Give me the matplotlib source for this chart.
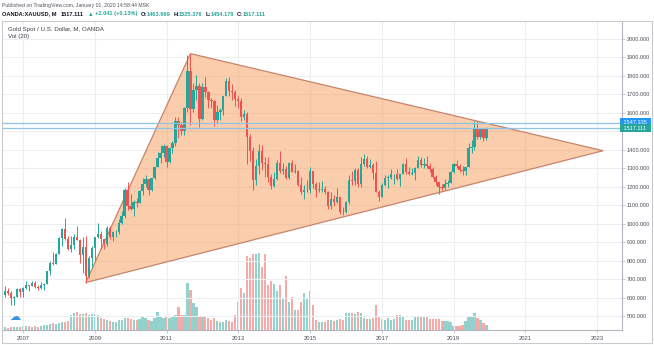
import matplotlib
matplotlib.use("Agg")
import matplotlib.pyplot as plt
from matplotlib.patches import Polygon, Rectangle
import matplotlib.transforms as mtransforms
import numpy as np

plt.rcParams['font.family'] = ['Liberation Sans', 'DejaVu Sans']

W, H = 654, 345
fig = plt.figure(figsize=(W / 100, H / 100), dpi=100)


def fx(px):
    return px / W


def fy(py):
    return 1 - py / H


# ---- OANDA:XAUUSD monthly bars, Jul 2006 .. Dec 2019 ----
first_month = -6          # months relative to Jan 2007
open_ = [
    614, 633, 623, 599, 604, 646,
    632, 650, 669, 662, 680, 659, 650, 666, 673, 743, 789, 783,
    834, 923, 972, 916, 864, 886, 926, 913, 833, 871, 718, 815,
    869, 927, 942, 916, 891, 979, 927, 954, 955, 1001, 1040, 1182,
    1096, 1081, 1116, 1113, 1179, 1213, 1244, 1181, 1246, 1307, 1357, 1385,
    1421, 1332, 1411, 1439, 1556, 1536, 1500, 1628, 1825, 1620, 1722, 1746,
    1565, 1738, 1711, 1669, 1664, 1560, 1604, 1614, 1692, 1772, 1719, 1712,
    1675, 1663, 1578, 1595, 1472, 1393, 1234, 1313, 1396, 1326, 1323, 1253,
    1202, 1244, 1326, 1284, 1296, 1250, 1327, 1282, 1287, 1210, 1171, 1182,
    1184, 1283, 1213, 1183, 1183, 1190, 1172, 1095, 1134, 1115, 1142, 1065,
    1061, 1118, 1238, 1233, 1293, 1215, 1322, 1351, 1309, 1316, 1275, 1173,
    1146, 1211, 1249, 1249, 1268, 1269, 1242, 1269, 1322, 1280, 1271, 1275,
    1303, 1345, 1318, 1325, 1315, 1298, 1253, 1224, 1201, 1192, 1215, 1222,
    1282, 1321, 1313, 1292, 1284, 1305, 1409, 1413, 1520, 1472, 1513, 1463.969,
]
high = [
    663, 653, 636, 611, 651, 649,
    656, 690, 670, 692, 691, 669, 682, 680, 745, 796, 846, 841,
    930, 975, 1032, 934, 934, 943, 989, 915, 928, 935, 825, 880,
    930, 1006, 963, 919, 985, 989, 960, 965, 1023, 1070, 1195, 1227,
    1161, 1126, 1138, 1180, 1249, 1265, 1244, 1248, 1308, 1388, 1424, 1431,
    1424, 1411, 1447, 1575, 1577, 1553, 1632, 1912, 1921, 1764, 1803, 1764,
    1764, 1792, 1719, 1678, 1668, 1640, 1625, 1692, 1790, 1796, 1754, 1723,
    1694, 1679, 1617, 1605, 1487, 1417, 1348, 1434, 1424, 1362, 1361, 1267,
    1280, 1345, 1392, 1331, 1315, 1332, 1345, 1323, 1290, 1255, 1208, 1239,
    1307, 1284, 1224, 1224, 1232, 1205, 1175, 1170, 1157, 1191, 1143, 1088,
    1124, 1263, 1283, 1304, 1303, 1362, 1375, 1367, 1352, 1326, 1338, 1180,
    1220, 1264, 1261, 1295, 1270, 1296, 1270, 1331, 1357, 1306, 1299, 1307,
    1366, 1361, 1356, 1366, 1326, 1309, 1266, 1225, 1214, 1243, 1237, 1285,
    1326, 1346, 1324, 1310, 1306, 1439, 1453, 1555, 1557, 1517, 1515, 1525.376,
]
low = [
    604, 612, 560, 560, 603, 605,
    603, 645, 636, 661, 652, 642, 648, 642, 671, 723, 776, 780,
    834, 880, 913, 860, 848, 862, 909, 786, 735, 681, 706, 763,
    800, 922, 865, 865, 880, 916, 905, 929, 944, 998, 1033, 1075,
    1072, 1044, 1088, 1112, 1156, 1198, 1155, 1176, 1242, 1305, 1330, 1361,
    1309, 1326, 1381, 1418, 1462, 1478, 1478, 1603, 1535, 1603, 1668, 1523,
    1563, 1688, 1627, 1627, 1527, 1547, 1564, 1587, 1689, 1692, 1672, 1635,
    1626, 1555, 1562, 1321, 1338, 1180, 1208, 1271, 1292, 1251, 1227, 1187,
    1201, 1239, 1277, 1268, 1240, 1240, 1281, 1272, 1206, 1160, 1131, 1170,
    1167, 1191, 1142, 1170, 1170, 1162, 1077, 1080, 1098, 1110, 1052, 1046,
    1060, 1108, 1208, 1207, 1200, 1199, 1310, 1301, 1302, 1241, 1171, 1123,
    1146, 1205, 1195, 1241, 1214, 1236, 1205, 1267, 1271, 1261, 1264, 1236,
    1302, 1307, 1303, 1302, 1282, 1246, 1211, 1160, 1180, 1182, 1196, 1221,
    1276, 1302, 1281, 1266, 1266, 1305, 1382, 1400, 1459, 1458, 1446, 1454.178,
]
close = [
    633, 623, 599, 604, 646, 632,
    650, 669, 662, 680, 659, 650, 666, 673, 743, 789, 783, 834,
    923, 972, 916, 864, 886, 926, 913, 833, 871, 718, 815, 869,
    927, 942, 916, 891, 979, 927, 954, 955, 1001, 1040, 1182, 1096,
    1081, 1116, 1113, 1179, 1213, 1244, 1181, 1246, 1307, 1357, 1385, 1421,
    1332, 1411, 1439, 1556, 1536, 1500, 1628, 1825, 1620, 1722, 1746, 1565,
    1738, 1711, 1669, 1664, 1560, 1604, 1614, 1692, 1772, 1719, 1712, 1675,
    1663, 1578, 1595, 1472, 1393, 1234, 1313, 1396, 1326, 1323, 1253, 1202,
    1244, 1326, 1284, 1296, 1250, 1327, 1282, 1287, 1210, 1171, 1182, 1184,
    1283, 1213, 1183, 1183, 1190, 1172, 1095, 1134, 1115, 1142, 1065, 1061,
    1118, 1238, 1233, 1293, 1215, 1322, 1351, 1309, 1316, 1275, 1173, 1146,
    1211, 1249, 1249, 1268, 1269, 1242, 1269, 1322, 1280, 1271, 1275, 1303,
    1345, 1318, 1325, 1315, 1298, 1253, 1224, 1201, 1192, 1215, 1222, 1282,
    1321, 1313, 1292, 1284, 1305, 1409, 1413, 1520, 1472, 1513, 1464, 1517.111,
]
# tick volume, thousands
volume = [
    30, 20, 30, 30, 30, 30,
    40, 40, 40, 30, 40, 30, 40, 50, 50, 60, 70, 60,
    70, 80, 80, 90, 150, 170, 180, 160, 160, 170, 150, 160,
    160, 150, 120, 110, 100, 90, 80, 80, 100, 100, 120, 120,
    110, 100, 100, 110, 130, 120, 100, 90, 120, 180, 140, 120,
    130, 120, 130, 150, 230, 150, 150, 470, 400, 270, 230, 140,
    130, 130, 120, 100, 120, 90, 80, 80, 100, 90, 80, 150,
    280, 420, 370, 740, 720, 760, 760, 770, 630, 760, 450, 490,
    460, 390, 450, 310, 540, 280, 330, 200, 200, 280, 370, 320,
    390, 250, 100, 80, 80, 80, 100, 100, 90, 100, 110, 100,
    170, 170, 170, 160, 180, 170, 120, 110, 110, 120, 250, 130,
    110, 100, 120, 100, 110, 150, 150, 140, 100, 100, 100, 140,
    140, 140, 130, 140, 110, 110, 110, 110, 90, 90, 90, 80,
    40, 40, 40, 50, 90, 130, 140, 170, 120, 100, 70, 50,
]

# triangle drawn on the chart: 2008 low, 2011 high, apex
tri_months = [21, 56, 194]
tri_prices = [681, 1921, 1395]

# horizontal levels
level_lines = [1547.335, 1517.111]
level_colors = ['#2196f3', '#26a69a']

price_ticks = [500, 600, 700, 800, 900, 1000, 1100, 1200, 1300, 1400,
               1600, 1700, 1800, 1900, 2000]
year_labels = ['2007', '2009', '2011', '2013', '2015', '2017', '2019', '2021', '2023']

UP, DOWN = '#26a69a', '#ef5350'
UP_V, DOWN_V = '#93d2cc', '#f7a9a7'
GRID = '#eceef2'
AXC = '#b2b5be'
TXT = '#4a4e59'

# ---- axes layout (pixel box: x 2..622, y 21..330) ----
L, R, T, B = 2, 622, 21, 330
rect = [fx(L), fy(B), fx(R) - fx(L), fy(T) - fy(B)]
ax_vol = fig.add_axes(rect, zorder=0)
ax = fig.add_axes(rect, zorder=1)
ax.patch.set_alpha(0)

xlim = (-7.02, 200.33)
ylim = (424.2, 2097.5)

months = np.arange(first_month, first_month + len(close))
o = np.array(open_, float)
h = np.array(high, float)
lo = np.array(low, float)
c = np.array(close, float)
up = c >= o

# volume pane
ax_vol.bar(months, volume, width=0.74, color=np.where(up, UP_V, DOWN_V), linewidth=0)
ax_vol.set_xlim(*xlim)
ax_vol.set_ylim(0, 3090)
ax_vol.axis('off')

# grid
for m in range(0, 193, 24):
    ax.axvline(m, color=GRID, lw=0.8, zorder=0)
for p in price_ticks + [1500]:
    ax.axhline(p, color=GRID, lw=0.8, zorder=0)

# triangle fill (grid shows faintly through it)
ax.add_patch(Polygon(list(zip(tri_months, tri_prices)), closed=True,
                     facecolor='#f5964f', edgecolor='none', alpha=0.47, zorder=1))
ax.add_patch(Polygon(list(zip(tri_months, tri_prices)), closed=True,
                     facecolor='none', edgecolor='#c8846a', lw=0.9, zorder=2))

# candles
cols = np.where(up, UP, DOWN)
ax.vlines(months, lo, h, colors=cols, lw=0.7, zorder=3)
body = np.maximum(np.abs(c - o), 3)
ax.bar(months, body, bottom=np.minimum(o, c), width=0.78, color=cols,
       linewidth=0, zorder=4)

# levels
for lv in level_lines:
    ax.axhline(lv, color='#8fc4e6', lw=0.9, zorder=6)

ax.set_xlim(*xlim)
ax.set_ylim(*ylim)

for s in ['top', 'left']:
    ax.spines[s].set_visible(False)
ax.spines['right'].set_color(AXC)
ax.spines['bottom'].set_color(AXC)
ax.spines['right'].set_linewidth(0.8)
ax.spines['bottom'].set_linewidth(0.8)

ax.yaxis.tick_right()
ax.set_yticks(price_ticks)
ax.set_yticklabels([f'{p:.3f}' for p in price_ticks])
ax.tick_params(axis='y', length=2, width=0.5, color=AXC, pad=1.5,
               labelsize=4.0, labelcolor=TXT)
ax.set_xticks(list(range(0, 193, 24)))
ax.set_xticklabels(year_labels)
ax.tick_params(axis='x', length=2, width=0.5, color=AXC, pad=2,
               labelsize=4.2, labelcolor=TXT)

# level labels on the price scale
trans = mtransforms.blended_transform_factory(ax.transAxes, ax.transData)
for lv, col in zip(level_lines, level_colors):
    ax.text(1.0, lv, f' {lv:.3f}  ', transform=trans, ha='left', va='center',
            fontsize=4.0, color='white', zorder=7, clip_on=False,
            bbox=dict(boxstyle='square,pad=0.3', fc=col, ec='none'))

# outer frame
fig.patches.append(Rectangle((fx(2), fy(343)), fx(652) - fx(2), fy(21) - fy(343),
                             transform=fig.transFigure, fill=False,
                             ec='#c8cad0', lw=0.8))

# header
fig.text(fx(2), fy(6), 'Published on TradingView.com, January 01, 2020 14:58:44 MSK',
         fontsize=3.7, color='#50535e', va='center', ha='left')

renderer = fig.canvas.get_renderer()
x = 2.0
pieces = [
    ('OANDA:XAUUSD, M', '#131722', 4.0),
    ('1517.111', '#131722', 4.0),
    ('\u25b2', UP, 2.0),
    ('+2.041 (+0.13%)', UP, 3.0),
    ('O:', '#131722', 0.0),
    ('1463.969', UP, 2.5),
    ('H:', '#131722', 0.0),
    ('1525.376', UP, 2.5),
    ('L:', '#131722', 0.0),
    ('1454.178', UP, 2.5),
    ('C:', '#131722', 0.0),
    ('1517.111', UP, 0.0),
]
for s, col, gap in pieces:
    t = fig.text(fx(x), fy(14), s, fontsize=4.1, fontweight='bold', color=col,
                 va='center', ha='left')
    bb = t.get_window_extent(renderer)
    x += bb.width + gap

fig.text(fx(8), fy(29), 'Gold Spot / U.S. Dollar, M, OANDA', fontsize=4.4,
         color='#3c3f48', va='center', ha='left')
fig.text(fx(8), fy(36.5), 'Vol (20)', fontsize=4.4, color='#3c3f48',
         va='center', ha='left')
fig.text(fx(15), fy(317), '\u2601', fontsize=8, color='#3d8fe0',
         va='center', ha='center', family='DejaVu Sans')

fig.savefig('out.png', dpi=100)
